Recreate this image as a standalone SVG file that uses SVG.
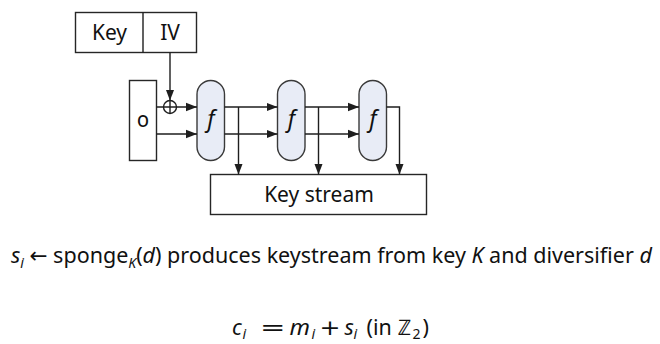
<svg xmlns="http://www.w3.org/2000/svg" width="660" height="344" viewBox="0 0 660 344">
  <defs>
    <marker id="arrow" markerUnits="userSpaceOnUse" markerWidth="12" markerHeight="10" refX="11" refY="5" orient="auto">
      <path d="M0,0.8 L11,5 L0,9.2 Z" fill="#1e1e1e"/>
    </marker>
    <style>
      .box { fill: #ffffff; stroke: #262626; stroke-width: 1.4; }
      .perm { fill: #e8ecf6; stroke: #3a3a3a; stroke-width: 1.4; }
      .wire { fill: none; stroke: #1e1e1e; stroke-width: 1.4; }
      .lbl { font-family: "Noto Sans", "Open Sans", "DejaVu Sans", sans-serif; font-size: 21px; fill: #111111; text-anchor: middle; }
      .fn { font-family: "Noto Sans", "DejaVu Sans", sans-serif; font-style: italic; font-size: 23px; fill: #111111; text-anchor: middle; }
      .math { font-family: "Noto Sans", "Open Sans", "DejaVu Sans", sans-serif; font-size: 21.5px; fill: #111111; }
      .it { font-style: italic; }
      .sub { font-size: 14px; }
      .op { font-family: "DejaVu Sans", "Noto Sans", sans-serif; font-size: 22px; fill: #111111; }
    </style>
  </defs>

  <!-- key and IV register -->
  <g id="key-iv">
    <rect class="box" x="75.5" y="12.5" width="121" height="40"/>
    <line class="wire" x1="143" y1="12.5" x2="143" y2="52.5"/>
    <text class="lbl" x="109.5" y="40">Key</text>
    <text class="lbl" x="170" y="40">IV</text>
  </g>

  <!-- initial state -->
  <g id="zero-state">
    <rect class="box" x="129.5" y="80.5" width="27" height="80"/>
    <text class="lbl" x="143" y="126.5" style="font-variant-numeric: oldstyle-nums; font-feature-settings: 'onum' 1;">0</text>
  </g>

  <!-- permutation rounds -->
  <g id="f1">
    <rect class="perm" x="197" y="80.5" width="27.5" height="80" rx="13.75"/>
    <text class="fn" x="211" y="127">f</text>
  </g>
  <g id="f2">
    <rect class="perm" x="277.5" y="80.5" width="27.5" height="80" rx="13.75"/>
    <text class="fn" x="291.5" y="127">f</text>
  </g>
  <g id="f3">
    <rect class="perm" x="359" y="80.5" width="27.5" height="80" rx="13.75"/>
    <text class="fn" x="373" y="127">f</text>
  </g>

  <!-- output buffer -->
  <g id="keystream">
    <rect class="box" x="210.5" y="174.5" width="216" height="40"/>
    <text class="lbl" x="319" y="202">Key stream</text>
  </g>

  <!-- wiring -->
  <g id="connectors">
    <!-- IV absorbed via XOR -->
    <line class="wire" x1="170" y1="52.5" x2="170" y2="100.5" marker-end="url(#arrow)"/>
    <circle class="wire" cx="170" cy="107" r="6.5"/>
    <line class="wire" x1="170" y1="100.5" x2="170" y2="113.5"/>
    <line class="wire" x1="156.5" y1="107" x2="197" y2="107" marker-end="url(#arrow)"/>
    <line class="wire" x1="156.5" y1="134" x2="197" y2="134" marker-end="url(#arrow)"/>
    <!-- f1 to f2 -->
    <line class="wire" x1="224.5" y1="107" x2="277.5" y2="107" marker-end="url(#arrow)"/>
    <line class="wire" x1="224.5" y1="134" x2="277.5" y2="134" marker-end="url(#arrow)"/>
    <!-- f2 to f3 -->
    <line class="wire" x1="305" y1="107" x2="359" y2="107" marker-end="url(#arrow)"/>
    <line class="wire" x1="305" y1="134" x2="359" y2="134" marker-end="url(#arrow)"/>
    <!-- squeezed outputs -->
    <line class="wire" x1="238.5" y1="107" x2="238.5" y2="174.5" marker-end="url(#arrow)"/>
    <line class="wire" x1="318.5" y1="107" x2="318.5" y2="174.5" marker-end="url(#arrow)"/>
    <polyline class="wire" points="386.5,107 399.5,107 399.5,174.5" marker-end="url(#arrow)"/>
  </g>

  <!-- caption -->
  <text class="math" x="11" y="263"><tspan class="it">s</tspan><tspan class="it sub" dy="5">i</tspan><tspan dy="-5"> ← sponge</tspan><tspan class="it sub" dy="5">K</tspan><tspan dy="-5">(</tspan><tspan class="it">d</tspan><tspan>) produces keystream from key </tspan><tspan class="it">K</tspan><tspan> and diversifier </tspan><tspan class="it">d</tspan></text>

  <!-- XOR encryption rule -->
  <g id="equation">
    <text class="math it" x="232" y="335">c</text>
    <text class="math it sub" x="242.5" y="339">i</text>
    <text class="op" x="260" y="335" textLength="25.5" lengthAdjust="spacingAndGlyphs">=</text>
    <text class="math it" x="289.5" y="335" textLength="20.5" lengthAdjust="spacingAndGlyphs">m</text>
    <text class="math it sub" x="311.5" y="339">i</text>
    <text class="op" x="319.5" y="335" textLength="21" lengthAdjust="spacingAndGlyphs">+</text>
    <text class="math it" x="344.5" y="335">s</text>
    <text class="math it sub" x="353.5" y="339">i</text>
    <text class="math" x="366.5" y="335">(in</text>
    <text class="math" x="397.5" y="335">ℤ</text>
    <text class="math sub" x="412.5" y="339">2</text>
    <text class="math" x="422.5" y="335">)</text>
  </g>
</svg>
